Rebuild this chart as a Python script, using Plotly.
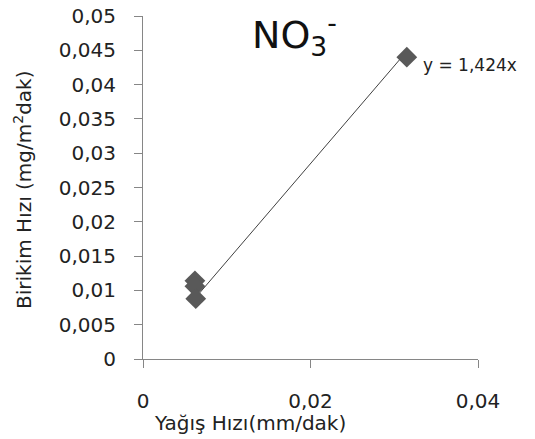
import plotly.graph_objects as go

# Data
x_vals = [0.0062, 0.0062, 0.0063, 0.0315]   # Yağış Hızı (mm/dak)
y_vals = [0.0114, 0.0106, 0.0088, 0.0440]   # Birikim Hızı (mg/m²dak)
slope = 1.424
trend_label = "y = 1,424x"
title_text = "NO<sub>3</sub><sup>-</sup>"
x_title = "Yağış Hızı(mm/dak)"
y_title = "Birikim Hızı (mg/m<sup>2</sup>dak)"

# page body has an 8px default margin; compensate for it
OFF = 8
W, H = 535 - OFF, 439 - OFF
# plot area in screen pixels: left 143, right 478, top 16, bottom 359
L, R, T, B = 143 - OFF, 535 - 478, 16 - OFF, 439 - 359

font = "DejaVu Sans"
axis_col = "#868686"
mark_col = "#595959"

trend_x = [min(x_vals), max(x_vals)]
trend_y = [slope * v for v in trend_x]

fig = go.Figure()
fig.add_trace(go.Scatter(x=trend_x, y=trend_y, mode="lines",
                         line=dict(color="#404040", width=1),
                         hoverinfo="skip", showlegend=False))
fig.add_trace(go.Scatter(x=x_vals, y=y_vals, mode="markers",
                         marker=dict(symbol="diamond", size=16, color=mark_col),
                         hoverinfo="skip", showlegend=False))

def px_x(p):  # screen pixel -> paper coordinate
    return (p - OFF - L) / (W - L - R)

def px_y(p):
    return 1 - (p - OFF - T) / (H - T - B)

fig.update_layout(
    width=W, height=H,
    margin=dict(l=L, r=R, t=T, b=B, pad=0, autoexpand=False),
    paper_bgcolor="white", plot_bgcolor="white",
    separators=",.",
    font=dict(family=font, size=19, color="#222222"),
    xaxis=dict(range=[0, 0.04], dtick=0.02, tick0=0, automargin=False,
               showline=True, linecolor=axis_col, linewidth=1,
               ticks="outside", ticklen=8, tickcolor=axis_col,
               showgrid=False, zeroline=False,
               ticklabelstandoff=16, ticklabeloverflow="allow",
               tickfont=dict(family=font, size=20, color="#222222")),
    yaxis=dict(range=[0, 0.05], dtick=0.005, tick0=0, automargin=False,
               showline=True, linecolor=axis_col, linewidth=1,
               ticks="outside", ticklen=8, tickcolor=axis_col,
               showgrid=False, zeroline=False,
               ticklabelstandoff=14, ticklabeloverflow="allow",
               tickfont=dict(family=font, size=20, color="#222222")),
    annotations=[
        dict(text=title_text, xref="paper", yref="paper",
             x=px_x(250), y=px_y(34), xanchor="left", yanchor="middle",
             showarrow=False, font=dict(family=font, size=38, color="#111111")),
        dict(text=trend_label, xref="paper", yref="paper",
             x=px_x(421), y=px_y(65), xanchor="left", yanchor="middle",
             showarrow=False, font=dict(family=font, size=17, color="#222222")),
        dict(text=x_title, xref="paper", yref="paper",
             x=px_x(250), y=px_y(423), xanchor="center", yanchor="middle",
             showarrow=False, font=dict(family=font, size=20, color="#222222")),
        dict(text=y_title, xref="paper", yref="paper",
             x=px_x(23), y=px_y(190), xanchor="center", yanchor="middle",
             textangle=-90,
             showarrow=False, font=dict(family=font, size=20, color="#222222")),
    ],
)

fig.write_html("out.html")
